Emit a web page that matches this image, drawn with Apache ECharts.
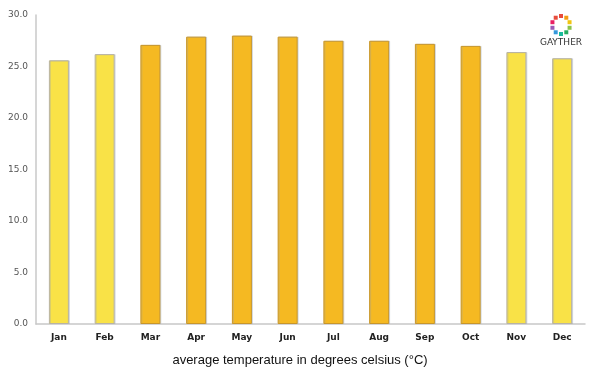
<!DOCTYPE html>
<html>
<head>
<meta charset="utf-8">
<script src="https://cdn.jsdelivr.net/npm/echarts@6/dist/echarts.min.js"></script>
<style>
  html, body { margin: 0; padding: 0; background: #fff; }
  #chart { width: 600px; height: 375px; }
</style>
</head>
<body>
<div id="chart"></div>
<script>
// Données
const months = ['Jan', 'Feb', 'Mar', 'Apr', 'May', 'Jun', 'Jul', 'Aug', 'Sep', 'Oct', 'Nov', 'Dec'];
const temperatures = [25.6, 26.2, 27.1, 27.9, 28.0, 27.9, 27.5, 27.5, 27.2, 27.0, 26.4, 25.8];
// mois "frais" en jaune clair, les autres en orange
const coolMonths = ['Jan', 'Feb', 'Nov', 'Dec'];
const logoColors = ['#e84b3c', '#f39c12', '#f1c40f', '#8bc34a', '#27ae60', '#1abc9c', '#3498db', '#9b59b6', '#e91e63', '#e74c3c'];

function barStyle(month) {
    if (coolMonths.includes(month)) {
        return { color: '#f9e247', borderColor: '#b8b3a4', borderWidth: 1 };
    }
    return { color: '#f5b922', borderColor: '#c8962a', borderWidth: 1 };
}

// petit logo en haut à droite
function logo() {
    const items = [];
    const cx = 561, cy = 25, r = 9;
    logoColors.forEach((c, i) => {
        const a = (i / logoColors.length) * Math.PI * 2 - Math.PI / 2;
        items.push({
            type: 'rect',
            shape: { x: cx + r * Math.cos(a) - 2, y: cy + r * Math.sin(a) - 2, width: 4, height: 4 },
            style: { fill: c }
        });
    });
    items.push({
        type: 'text',
        x: cx, y: 38,
        style: { text: 'GAYTHER', fill: '#333', font: '9px "DejaVu Sans"', align: 'center' }
    });
    return items;
}

const dom = document.getElementById('chart');
const myChart = echarts.init(dom, null, { renderer: 'canvas' });

myChart.setOption({
    animation: false,
    grid: { left: 36, right: 15, top: 15, bottom: 51 },
    title: {
        text: 'average temperature in degrees celsius (°C)',
        left: 'center',
        top: 349,
        textStyle: { fontFamily: 'Liberation Sans', fontSize: 13, fontWeight: 'normal', color: '#111' }
    },
    xAxis: {
        type: 'category',
        data: months,
        axisLine: { lineStyle: { color: '#c8c8c8', width: 1.5 } },
        axisTick: { show: false },
        axisLabel: { color: '#222', fontWeight: 'bold', fontSize: 9, fontFamily: 'DejaVu Sans', margin: 9 }
    },
    yAxis: {
        type: 'value',
        min: 0,
        max: 30,
        interval: 5,
        axisLine: { show: true, lineStyle: { color: '#c8c8c8', width: 1.5 } },
        axisTick: { show: false },
        splitLine: { show: false },
        axisLabel: {
            color: '#555',
            fontSize: 9,
            fontFamily: 'DejaVu Sans',
            margin: 8,
            formatter: v => v.toFixed(1)
        }
    },
    series: [{
        type: 'bar',
        barWidth: 20,
        data: temperatures.map((v, i) => ({
            value: v,
            itemStyle: Object.assign(barStyle(months[i]), {
                shadowColor: 'rgba(150,160,180,0.35)',
                shadowOffsetX: 1,
                shadowOffsetY: 0,
                shadowBlur: 0
            })
        }))
    }],
    graphic: logo()
});
</script>
</body>
</html>
